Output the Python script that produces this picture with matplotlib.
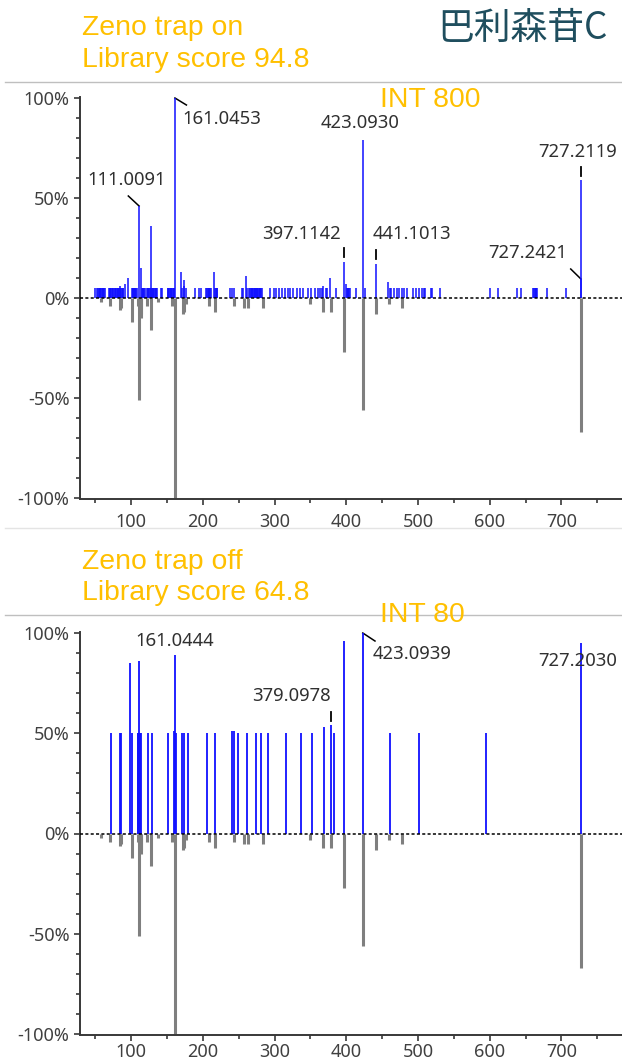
import matplotlib
matplotlib.use("Agg")
import matplotlib.pyplot as plt
from matplotlib.lines import Line2D
from matplotlib.ticker import MultipleLocator, FuncFormatter

# library spectrum (drawn downward in both panels)
lib_mz = [58, 70, 84, 86, 101, 109, 111, 113, 114, 122, 128, 138, 157, 161, 172, 174, 177,
          209, 217, 243, 257, 263, 284, 350, 367, 379, 397, 423, 441, 459, 478, 727]
lib_int = [-2, -4, -6, -5, -12, -4, -51, -10, -8, -4, -16, -2, -4, -100, -8, -7, -3,
           -4, -7, -4, -5, -5, -5, -3, -7, -7, -27, -56, -8, -3, -5, -67]

# Zeno trap on, measured spectrum
on_mz = [50, 52, 54, 55, 56, 57, 58, 59, 60, 61, 62, 63,
         69, 70, 71, 72, 73, 74, 75,
         77, 78, 79, 80, 81, 82, 83, 84, 85, 86, 87, 88, 89,
         92, 96,
         101, 102, 103, 104, 105, 106, 107, 108,
         111, 113,
         115, 116, 117, 118, 119,
         122, 123, 124, 125, 126, 127, 128, 129, 130, 131, 132, 133, 134, 135, 136,
         141, 143,
         151, 152, 153, 154, 155, 156, 157, 158, 159, 160, 161,
         169, 171, 173, 174, 176,
         189, 195, 198,
         205, 206, 207, 208, 209, 210, 211,
         215, 217, 218, 219, 220,
         238, 240, 244, 254, 256, 260,
         262, 264, 266, 267, 268, 269, 270, 271, 272, 273, 274, 275, 276, 277, 278, 279, 280, 281, 282,
         293, 299, 302, 306, 310, 314, 318, 321,
         326, 331, 336, 340,
         347, 351, 356, 360, 363, 366, 368, 371, 373, 377, 386,
         397, 400, 401, 402, 403, 404, 405, 414, 423, 426, 441, 458,
         461, 463, 467, 471, 474, 477, 481, 484,
         493, 497, 502, 505, 508, 510, 518, 520, 530,
         600, 612, 638, 644, 661, 662, 663, 664, 665, 666,
         680, 707, 727.2421, 727.2119]
on_int = [5, 5, 5, 5, 5, 5, 5, 5, 5, 5, 5, 5,
          5, 5, 5, 5, 5, 5, 5,
          5, 5, 5, 5, 5, 5, 5, 6, 5, 5, 5, 5, 5,
          7, 10,
          5, 5, 5, 5, 5, 5, 5, 5,
          46, 15,
          5, 5, 5, 5, 5,
          5, 5, 5, 5, 5, 5, 36, 5, 5, 5, 5, 5, 5, 5, 5,
          5, 5,
          5, 5, 5, 5, 5, 5, 5, 5, 5, 5, 100,
          13, 5, 9, 6, 5,
          5, 5, 5,
          5, 5, 5, 5, 5, 5, 5,
          13, 5, 5, 5, 5,
          5, 5, 5, 5, 5, 11,
          5, 5, 5, 5, 5, 5, 5, 5, 5, 5, 5, 5, 5, 5, 5, 5, 5, 5, 5,
          5, 5, 5, 5, 5, 5, 5, 5,
          5, 5, 5, 5,
          5, 5, 5, 5, 5, 5, 6, 5, 5, 10, 5,
          18, 7, 5, 5, 5, 5, 5, 5, 79, 5, 17, 8,
          5, 5, 5, 5, 5, 5, 5, 5,
          5, 5, 5, 5, 5, 5, 5, 5, 5,
          5, 5, 5, 5, 5, 5, 5, 5, 5, 5,
          5, 5, 9.5, 59]

# Zeno trap off, measured spectrum
off_mz = [72, 84, 86, 99, 101, 109, 110, 111, 112, 113, 123, 129, 152, 159, 161, 162,
          171, 173, 179, 206, 217, 240, 243, 249, 262, 274, 281, 291, 316, 337, 352,
          369, 379, 383, 397, 423, 461, 501, 595, 727]
off_int = [50, 50, 50, 85, 50, 50, 50, 86, 50, 50, 50, 50, 50, 51, 89, 50,
           50, 50, 50, 50, 50, 51, 51, 50, 50, 50, 50, 50, 50, 50, 50,
           53, 54, 50, 96, 100, 50, 50, 50, 95]

W, H = 622, 1063
fig = plt.figure(figsize=(W / 100, H / 100), dpi=100)

gold = "#FFC000"
txt_col = "#303030"
blue = "#1010ff"
gray = "#7f7f7f"


def px(x, y):
    return x / W, 1 - y / H


def setup_axes(ax, xpad):
    ax.set_xlim(28.6, 784.5)
    ax.set_ylim(-100.5, 100.5)
    for s in ("top", "right"):
        ax.spines[s].set_visible(False)
    for s in ("left", "bottom"):
        ax.spines[s].set_color("#383838")
        ax.spines[s].set_linewidth(1.4)
    ax.xaxis.set_major_locator(MultipleLocator(100))
    ax.xaxis.set_minor_locator(MultipleLocator(50))
    ax.yaxis.set_major_locator(MultipleLocator(50))
    ax.yaxis.set_minor_locator(MultipleLocator(10))
    ax.yaxis.set_major_formatter(FuncFormatter(lambda v, p: f"{int(round(v))}%"))
    ax.tick_params(which="both", direction="out", color="#383838", width=1.2,
                   labelsize=13, labelcolor="#404040")
    ax.tick_params(which="major", length=4)
    ax.tick_params(which="minor", length=3)
    ax.tick_params(axis="x", which="major", pad=xpad)
    for lab in ax.get_xticklabels() + ax.get_yticklabels():
        lab.set_family("Noto Sans")
    ax.axhline(0, color="black", lw=1.1, ls=(0, (2, 1.5)), zorder=4)
    ax.vlines(lib_mz, 0, lib_int, colors=gray, lw=2.2, zorder=2)


def label(ax, x, y, s):
    ax.text(x, y, s, ha="center", va="center", fontsize=13.3, color=txt_col,
            family="Noto Sans", zorder=5)


def dash(ax, x, h):
    ax.plot([x, x], [h + 2.5, h + 7], color="black", lw=1.3, zorder=5)


# ---- top panel
ax1 = fig.add_axes([80 / W, 1 - 499 / H, 542 / W, 402 / H])
setup_axes(ax1, 6)
ax1.vlines(on_mz, 0, on_int, colors=blue, lw=1.1, zorder=3, clip_on=False)
label(ax1, 94, 59, "111.0091")
ax1.plot([111, 96], [on_int[on_mz.index(111)], 51], color="black", lw=1.1)
label(ax1, 227, 89.5, "161.0453")
ax1.plot([161, 177], [100, 96.5], color="black", lw=1.1, clip_on=False)
label(ax1, 419, 87.7, "423.0930")
label(ax1, 338, 32, "397.1142")
dash(ax1, 397, on_int[on_mz.index(397)])
label(ax1, 492, 32, "441.1013")
dash(ax1, 441, on_int[on_mz.index(441)])
label(ax1, 722.5, 73, "727.2119")
dash(ax1, 727.2119, on_int[on_mz.index(727.2119)] - 0.5)
label(ax1, 652.7, 22.7, "727.2421")
ax1.plot([727.2421, 713], [on_int[on_mz.index(727.2421)], 14.5], color="black", lw=1.1)

# ---- bottom panel
ax2 = fig.add_axes([80 / W, 1 - 1035 / H, 542 / W, 403 / H])
setup_axes(ax2, 1.5)
ax2.vlines(off_mz, 0, off_int, colors=blue, lw=1.3, zorder=3, clip_on=False)
label(ax2, 160.4, 96, "161.0444")
label(ax2, 323.6, 68.5, "379.0978")
dash(ax2, 379, off_int[off_mz.index(379)] - 0.5)
label(ax2, 491.6, 89.5, "423.0939")
ax2.plot([423, 440], [100, 96], color="black", lw=1.1, clip_on=False)
label(ax2, 722.5, 86, "727.2030")

# ---- headers and separators
for y, c in ((82, "#bfbfbf"), (528, "#e4e4e4"), (615, "#bfbfbf")):
    fig.add_artist(Line2D([5 / W, 1], [1 - y / H] * 2, transform=fig.transFigure,
                          color=c, lw=1.0))

hdr = dict(fontsize=20.4, color=gold, family="Liberation Sans", ha="left", va="baseline")
fig.text(*px(82, 35), "Zeno trap on", **hdr)
fig.text(*px(82, 67), "Library score 94.8", **hdr)
fig.text(*px(82, 569), "Zeno trap off", **hdr)
fig.text(*px(82, 600), "Library score 64.8", **hdr)
fig.text(*px(380, 107), "INT 800", **hdr)
fig.text(*px(380, 622), "INT 80", **hdr)
fig.text(*px(608, 28), "巴利森苷C", fontsize=26.5, color="#1f4e5e",
         family=["Noto Sans CJK SC", "DejaVu Sans"], ha="right", va="center")

fig.savefig("out.png", dpi=100)
